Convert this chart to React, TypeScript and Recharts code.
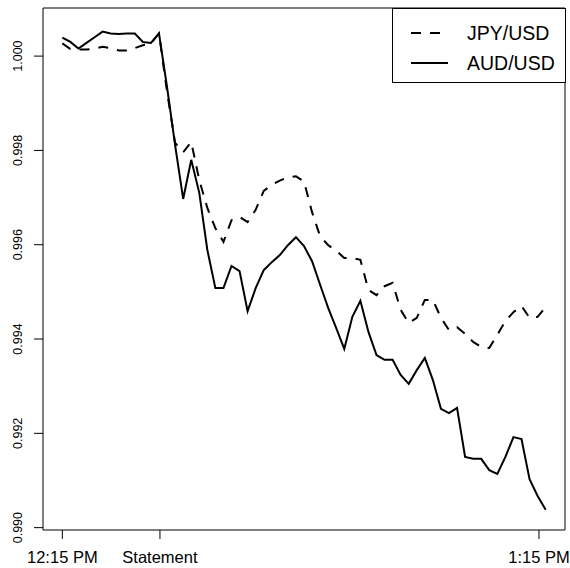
import React from 'react';
import { LineChart, Line, XAxis, YAxis, ReferenceArea, Legend } from 'recharts';

const jpyUsd = [
  1.00027, 1.00015, 1.00014, 1.00014, 1.00016, 1.0002, 1.00017, 1.00012, 1.00012, 1.00017,
  1.00023, 1.00027, 1.00048, 0.99924, 0.99816, 0.99796, 0.99818, 0.99737, 0.99678, 0.99635,
  0.99606, 0.99652, 0.99659, 0.99648, 0.99674, 0.99714, 0.99727, 0.99736, 0.99743, 0.99745,
  0.99734, 0.99669, 0.99618, 0.99599, 0.99587, 0.99572, 0.99572, 0.99568, 0.99504, 0.99493,
  0.99512, 0.99519, 0.99462, 0.99434, 0.99445, 0.99483, 0.99483, 0.99445, 0.99419, 0.99425,
  0.99411, 0.99394, 0.99383, 0.99381, 0.99409, 0.99438, 0.99457, 0.9947, 0.99445, 0.99447,
  0.99468,
];

const audUsd = [
  1.00039, 1.0003, 1.00016, 1.00028, 1.0004, 1.00052, 1.00048, 1.00047, 1.00048, 1.00048,
  1.0003, 1.00028, 1.00048, 0.99934, 0.99811, 0.99697, 0.9978, 0.9971, 0.99589, 0.99508,
  0.99508, 0.99555, 0.99544, 0.99459, 0.99508, 0.99546, 0.99563, 0.99578, 0.99599, 0.99616,
  0.99597, 0.99565, 0.99515, 0.99466, 0.99423, 0.99379, 0.99447, 0.99481, 0.99415, 0.99366,
  0.99356, 0.99356, 0.99324, 0.99305, 0.99334, 0.9936, 0.99313, 0.99252, 0.99243, 0.99254,
  0.9915, 0.99146, 0.99146, 0.99122, 0.99114, 0.9915, 0.99192, 0.99188, 0.99103, 0.99067,
  0.99038,
];

const seriesNames = ['JPY/USD', 'AUD/USD'];
const xTickPositions = [0, 12.12, 59.17];
const xTickLabels = ['12:15 PM', 'Statement', '1:15 PM'];
const yTicks = [0.99, 0.992, 0.994, 0.996, 0.998, 1.0];

const X_DOMAIN: [number, number] = [-2.4, 62.4];
const Y_DOMAIN: [number, number] = [0.98995, 1.00102];
const FONT = '"Liberation Sans", Arial, Helvetica, sans-serif';

const data = audUsd.map((a, i) => ({ t: i, jpy: jpyUsd[i], aud: a }));

const XTick = (props: any) => {
  const { x, payload } = props;
  const idx = xTickPositions.indexOf(payload.value);
  return (
    <text x={x} y={562.5} textAnchor="middle" fontFamily={FONT} fontSize={16.5} fill="#000">
      {idx >= 0 ? xTickLabels[idx] : ''}
    </text>
  );
};

const YTick = (props: any) => {
  const { y, payload } = props;
  const bx = 22;
  return (
    <text
      x={bx}
      y={y}
      transform={`rotate(-90, ${bx}, ${y})`}
      textAnchor="middle"
      fontFamily={FONT}
      fontSize={12.5}
      fill="#000"
    >
      {Number(payload.value).toFixed(3)}
    </text>
  );
};

const LegendBox = () => (
  <svg width={174} height={75} style={{ display: 'block' }}>
    <rect x={0.5} y={0.5} width={173} height={74} fill="#fff" stroke="#000" strokeWidth={1} />
    <line x1={19} x2={56} y1={25} y2={25} stroke="#000" strokeWidth={2} strokeDasharray="10 9" />
    <line x1={19} x2={56} y1={55} y2={55} stroke="#000" strokeWidth={2} />
    <text x={75} y={25} dominantBaseline="central" fontFamily={FONT} fontSize={19.5} fill="#000">
      {seriesNames[0]}
    </text>
    <text x={75} y={55} dominantBaseline="central" fontFamily={FONT} fontSize={19.5} fill="#000">
      {seriesNames[1]}
    </text>
  </svg>
);

export default function App() {
  return (
    <div style={{ position: 'absolute', left: 0, top: 0, width: 570, height: 568, background: '#fff' }}>
      <LineChart width={570} height={568} data={data} margin={{ top: 8, right: 5, left: 0, bottom: 0 }}>
        <XAxis
          dataKey="t"
          type="number"
          domain={X_DOMAIN}
          ticks={xTickPositions}
          allowDataOverflow
          axisLine={false}
          tickSize={9}
          tickLine={{ stroke: '#000', strokeWidth: 1 }}
          height={38}
          tick={<XTick />}
          interval={0}
        />
        <YAxis
          type="number"
          domain={Y_DOMAIN}
          ticks={yTicks}
          allowDataOverflow
          axisLine={false}
          tickSize={9}
          tickLine={{ stroke: '#000', strokeWidth: 1 }}
          width={43}
          tick={<YTick />}
          interval={0}
        />
        <ReferenceArea
          x1={X_DOMAIN[0]}
          x2={X_DOMAIN[1]}
          y1={Y_DOMAIN[0]}
          y2={Y_DOMAIN[1]}
          fill="none"
          fillOpacity={0}
          stroke="#000"
          strokeWidth={1}
          ifOverflow="visible"
        />
        <Line
          type="linear"
          dataKey="jpy"
          name={seriesNames[0]}
          stroke="#000"
          strokeWidth={2}
          strokeDasharray="10 9"
          dot={false}
          activeDot={false}
          isAnimationActive={false}
        />
        <Line
          type="linear"
          dataKey="aud"
          name={seriesNames[1]}
          stroke="#000"
          strokeWidth={2}
          dot={false}
          activeDot={false}
          isAnimationActive={false}
        />
        <Legend
          layout="vertical"
          align="center"
          verticalAlign="middle"
          wrapperStyle={{ left: 392, top: 8, width: 174, height: 75, margin: 0, padding: 0 }}
          content={<LegendBox />}
        />
      </LineChart>
    </div>
  );
}
